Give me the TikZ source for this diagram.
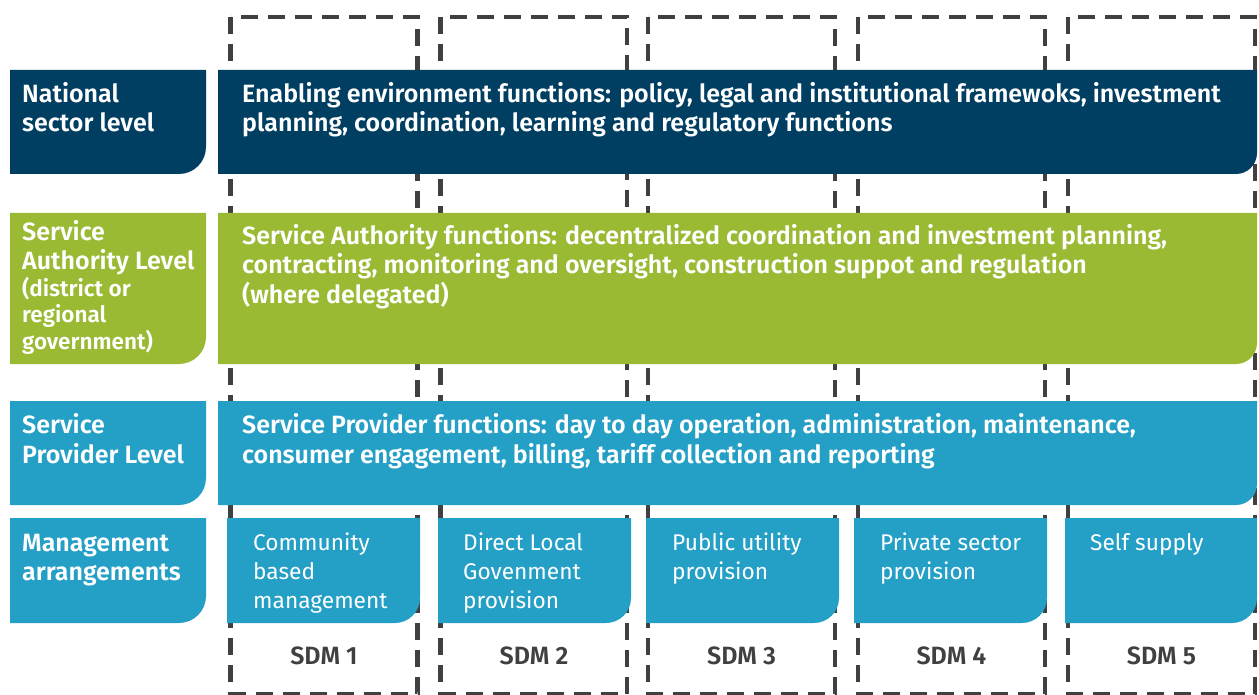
\documentclass[tikz,border=0pt]{standalone}
\usepackage{fontspec}
\setmainfont{Fira Sans}[BoldFont={Fira Sans SemiBold}]
\definecolor{navy}{HTML}{003E62}
\definecolor{lgreen}{HTML}{9BBA34}
\definecolor{lblue}{HTML}{249FC6}
\definecolor{dgray}{HTML}{404040}
\tikzset{
 dbox/.style={draw=dgray, line width=4.5pt, dash pattern=on 17pt off 10pt},
 hd/.style={anchor=base west, inner sep=0pt, text=white, font=\bfseries\fontsize{25}{29}\selectfont},
 sm/.style={anchor=base west, inner sep=0pt, text=white, font=\bfseries\fontsize{22.5}{26}\selectfont},
 mg/.style={anchor=base west, inner sep=0pt, text=white, font=\fontsize{22.7}{29}\selectfont},
 sdm/.style={anchor=base, inner sep=0pt, text=dgray, font=\bfseries\fontsize{25}{28}\selectfont},
}
\newcommand\rbox[6]{\fill[#6] (#1,-#2) -- (#3,-#2) -- (#3,-#4+#5) arc[start angle=0,end angle=-90,radius=#5] -- (#1,-#4) -- cycle;}
\begin{document}
\begin{tikzpicture}[x=1pt,y=1pt]
\useasboundingbox (0,0) rectangle (1259,-695);
% dashed SDM columns
\draw[dbox] (230.5,-17) rectangle (417.5,-694);
\draw[dbox] (440.5,-17) rectangle (627,-694);
\draw[dbox] (648,-17) rectangle (835,-694);
\draw[dbox] (858,-17) rectangle (1045,-694);
\draw[dbox] (1068,-17) rectangle (1255,-694);
% row 1
\rbox{10}{70}{206}{174}{27}{navy}
\rbox{218}{70}{1257}{174}{21}{navy}
% row 2
\rbox{10}{213}{206}{364}{27}{lgreen}
\rbox{218}{213}{1257}{364}{21}{lgreen}
% row 3
\rbox{10}{401}{206}{505}{27}{lblue}
\rbox{218}{401}{1257}{505}{21}{lblue}
% row 4
\rbox{10}{518}{206}{623}{27}{lblue}
\rbox{227}{518}{420}{623}{25}{lblue}
\rbox{438}{518}{631}{623}{25}{lblue}
\rbox{646}{518}{839}{623}{25}{lblue}
\rbox{854}{518}{1047}{623}{25}{lblue}
\rbox{1065}{518}{1257}{623}{25}{lblue}
% labels
\node[hd] (l1a) at (22,-103) {National};
\node[hd] (l1b) at (22,-132) {sector level};
\node[hd] (m1a) at (242,-103) {Enabling environment functions: policy, legal and institutional framewoks, investment};
\node[hd] (m1b) at (242,-132) {planning, coordination, learning and regulatory functions};
\node[hd] (l2a) at (22,-241) {Service};
\node[hd] (l2b) at (22,-270) {Authority Level};
\node[sm] (l2c) at (22,-297) {(district or};
\node[sm] (l2d) at (22,-323) {regional};
\node[sm] (l2e) at (22,-349) {government)};
\node[hd] (m2a) at (242,-245) {Service Authority functions: decentralized coordination and investment planning,};
\node[hd] (m2b) at (242,-274) {contracting, monitoring and oversight, construction suppot and regulation};
\node[hd] (m2c) at (242,-303) {(where delegated)};
\node[hd] (l3a) at (22,-433) {Service};
\node[hd] (l3b) at (22,-463) {Provider Level};
\node[hd] (m3a) at (242,-433) {Service Provider functions: day to day operation, administration, maintenance,};
\node[hd] (m3b) at (242,-463) {consumer engagement, billing, tariff collection and reporting};
\node[hd] (l4a) at (22,-551) {Management};
\node[hd] (l4b) at (22,-580) {arrangements};
\node[mg] (s1a) at (253,-550) {Community};
\node[mg] (s1b) at (253,-579) {based};
\node[mg] (s1c) at (253,-608) {management};
\node[mg] (s2a) at (463,-550) {Direct Local};
\node[mg] (s2b) at (463,-579) {Govenment};
\node[mg] (s2c) at (463,-608) {provision};
\node[mg] (s3a) at (672,-550) {Public utility};
\node[mg] (s3b) at (672,-579) {provision};
\node[mg] (s4a) at (880,-550) {Private sector};
\node[mg] (s4b) at (880,-579) {provision};
\node[mg] (s5a) at (1090,-550) {Self supply};
\node[sdm] (d1) at (324,-664) {SDM 1};
\node[sdm] (d2) at (534,-664) {SDM 2};
\node[sdm] (d3) at (741.5,-664) {SDM 3};
\node[sdm] (d4) at (951.5,-664) {SDM 4};
\node[sdm] (d5) at (1161.5,-664) {SDM 5};
\end{tikzpicture}
\end{document}
